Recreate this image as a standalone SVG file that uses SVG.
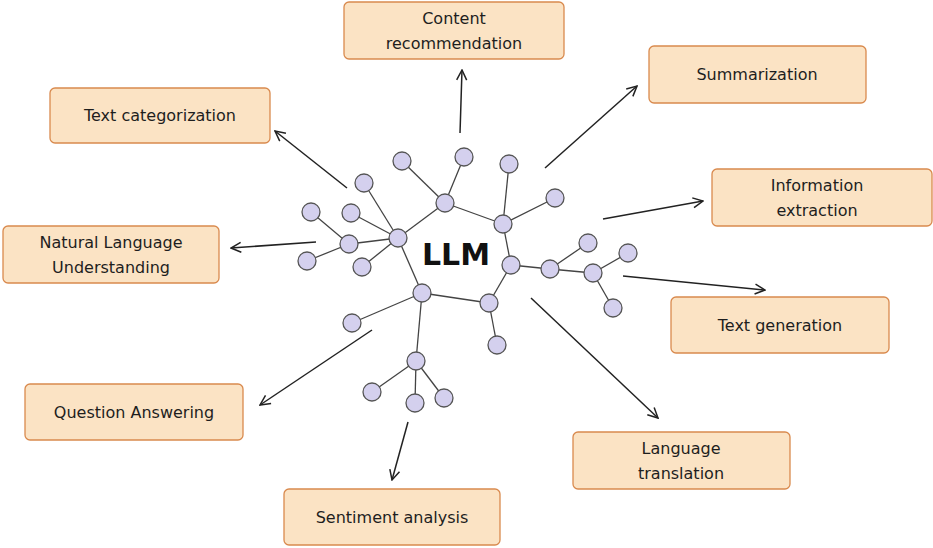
<svg xmlns="http://www.w3.org/2000/svg" width="933" height="548" viewBox="0 0 933 548">
<style>
.box{fill:#fbe3c4;stroke:#d98a4e;stroke-width:1.3}
.t{font-family:"DejaVu Sans",sans-serif;font-size:16px;fill:#1e1e1e;text-anchor:middle}
.e{stroke:#444;stroke-width:1.3}
.n{fill:#d4d0ee;stroke:#555;stroke-width:1.3}
.a{stroke:#222;stroke-width:1.5;fill:none;marker-end:url(#ah)}
</style>
<defs><marker id="ah" viewBox="0 0 12 12" refX="11" refY="6" markerWidth="12" markerHeight="12" markerUnits="userSpaceOnUse" orient="auto"><path d="M1 1L11 6L1 11" fill="none" stroke="#222" stroke-width="1.5"/></marker></defs>
<rect width="933" height="548" fill="#fff"/>
<g id="connectors">
<path class="a" d="M460 133L462 70"/>
<path class="a" d="M545 168L637 86"/>
<path class="a" d="M603 219L703 201"/>
<path class="a" d="M623 276L765 290"/>
<path class="a" d="M531 298L658 418"/>
<path class="a" d="M408 422L392 480"/>
<path class="a" d="M372 330L260 405"/>
<path class="a" d="M316 242L231 248"/>
<path class="a" d="M347 188L275 131"/>
</g>
<g id="network">
<g class="e">
<line x1="402" y1="161" x2="445" y2="203"/><line x1="464" y1="157" x2="445" y2="203"/>
<line x1="445" y1="203" x2="398" y2="238"/><line x1="445" y1="203" x2="503" y2="224"/>
<line x1="509" y1="164" x2="503" y2="224"/><line x1="555" y1="198" x2="503" y2="224"/>
<line x1="503" y1="224" x2="511" y2="265"/><line x1="511" y1="265" x2="489" y2="303"/>
<line x1="398" y1="238" x2="422" y2="293"/><line x1="422" y1="293" x2="489" y2="303"/>
<line x1="489" y1="303" x2="497" y2="345"/><line x1="364" y1="183" x2="398" y2="238"/>
<line x1="351" y1="213" x2="398" y2="238"/><line x1="398" y1="238" x2="349" y2="244"/>
<line x1="311" y1="212" x2="349" y2="244"/><line x1="307" y1="261" x2="349" y2="244"/>
<line x1="362" y1="267" x2="398" y2="238"/><line x1="511" y1="265" x2="550" y2="269"/>
<line x1="550" y1="269" x2="588" y2="243"/><line x1="550" y1="269" x2="593" y2="273"/>
<line x1="593" y1="273" x2="628" y2="253"/><line x1="593" y1="273" x2="613" y2="308"/>
<line x1="422" y1="293" x2="352" y2="323"/><line x1="422" y1="293" x2="416" y2="361"/>
<line x1="416" y1="361" x2="372" y2="392"/><line x1="416" y1="361" x2="415" y2="403"/>
<line x1="416" y1="361" x2="444" y2="398"/>
</g>
<g class="n">
<circle cx="402" cy="161" r="9"/><circle cx="464" cy="157" r="9"/><circle cx="509" cy="164" r="9"/>
<circle cx="364" cy="183" r="9"/><circle cx="445" cy="203" r="9"/><circle cx="555" cy="198" r="9"/>
<circle cx="503" cy="224" r="9"/><circle cx="311" cy="212" r="9"/><circle cx="351" cy="213" r="9"/>
<circle cx="398" cy="238" r="9"/><circle cx="349" cy="244" r="9"/><circle cx="588" cy="243" r="9"/>
<circle cx="628" cy="253" r="9"/><circle cx="307" cy="261" r="9"/><circle cx="362" cy="267" r="9"/>
<circle cx="511" cy="265" r="9"/><circle cx="550" cy="269" r="9"/><circle cx="593" cy="273" r="9"/>
<circle cx="422" cy="293" r="9"/><circle cx="489" cy="303" r="9"/><circle cx="613" cy="308" r="9"/>
<circle cx="352" cy="323" r="9"/><circle cx="497" cy="345" r="9"/><circle cx="416" cy="361" r="9"/>
<circle cx="372" cy="392" r="9"/><circle cx="415" cy="403" r="9"/><circle cx="444" cy="398" r="9"/>
</g>
<text x="456" y="265" style="font-family:'DejaVu Sans',sans-serif;font-size:30px;font-weight:bold;text-anchor:middle;fill:#111">LLM</text>
</g>
<g id="content"><rect class="box" x="344" y="2" width="220" height="57" rx="5"/><text class="t" x="454" y="24">Content</text><text class="t" x="454" y="49">recommendation</text></g>
<g id="summ"><rect class="box" x="649" y="46" width="217" height="57" rx="5"/><text class="t" x="757" y="80">Summarization</text></g>
<g id="textcat"><rect class="box" x="50" y="88" width="220" height="55" rx="5"/><text class="t" x="160" y="121">Text categorization</text></g>
<g id="info"><rect class="box" x="712" y="169" width="220" height="57" rx="5"/><text class="t" x="817" y="191">Information</text><text class="t" x="817" y="216">extraction</text></g>
<g id="nlu"><rect class="box" x="3" y="226" width="216" height="57" rx="5"/><text class="t" x="111" y="248">Natural Language</text><text class="t" x="111" y="273">Understanding</text></g>
<g id="textgen"><rect class="box" x="671" y="297" width="218" height="56" rx="5"/><text class="t" x="780" y="331">Text generation</text></g>
<g id="qa"><rect class="box" x="25" y="384" width="218" height="56" rx="5"/><text class="t" x="134" y="418">Question Answering</text></g>
<g id="lang"><rect class="box" x="573" y="432" width="217" height="57" rx="5"/><text class="t" x="681" y="454">Language</text><text class="t" x="681" y="479">translation</text></g>
<g id="sent"><rect class="box" x="284" y="489" width="216" height="56" rx="5"/><text class="t" x="392" y="523">Sentiment analysis</text></g>
</svg>
